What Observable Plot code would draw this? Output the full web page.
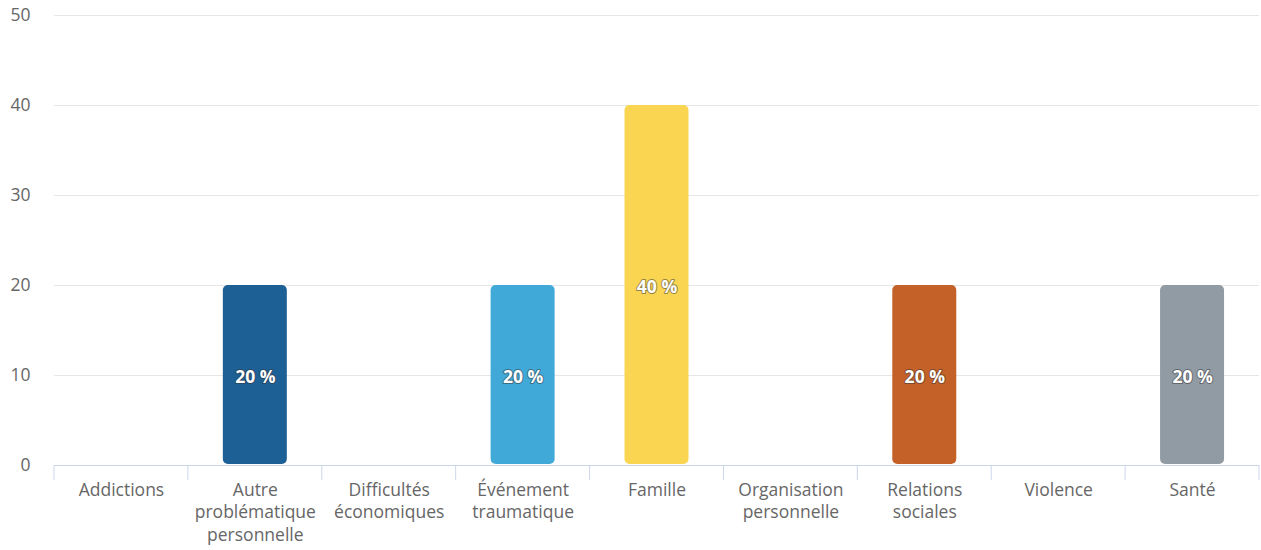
<!DOCTYPE html>
<html><head><meta charset="utf-8">
<script src="https://cdn.jsdelivr.net/npm/d3@7"></script>
<script src="https://cdn.jsdelivr.net/npm/@observablehq/plot@0.6"></script>
<style>
html,body{margin:0;padding:0;background:#fff;}
#chart svg{display:block;}
</style>
</head><body><div id="chart"></div>
<script>
const categories = ["Addictions","Autre problématique personnelle","Difficultés économiques","Événement traumatique","Famille","Organisation personnelle","Relations sociales","Violence","Santé"];
const labels = ["Addictions","Autre\nproblématique\npersonnelle","Difficultés\néconomiques","Événement\ntraumatique","Famille","Organisation\npersonnelle","Relations\nsociales","Violence","Santé"];
const values = [0,20,0,20,40,0,20,0,20];
const colors = ["#2f7ed8","#1d6096","#8bbc21","#41a9d8","#fad551","#492970","#c46128","#77a1e5","#919ba3"];
const yTicks = [0,10,20,30,40,50];

const data = categories.map((c,i)=>({cat:c, label:labels[i], value:values[i], color:colors[i]}));
const labelOf = new Map(categories.map((c,i)=>[c,labels[i]]));

const plot = Plot.plot({
  width: 1261, height: 550,
  marginTop: 15, marginBottom: 85, marginLeft: 54, marginRight: 2,
  style: {fontFamily: "'Open Sans', sans-serif", fontSize: "17.5px", color: "#666", background: "#fff"},
  x: {domain: categories, paddingInner: 0.522, paddingOuter: 0.261, align: 0.5, round: false, label: null},
  y: {domain: [0,50], ticks: yTicks, label: null},
  marks: [
    Plot.gridY(yTicks, {stroke: "#e6e6e6", strokeOpacity: 1}),
    Plot.axisY(yTicks, {tickSize: 0, tickPadding: 24, fill: "#666", fontSize: 17.5}),
    Plot.axisX({tickSize: 0, tickPadding: 14, tickFormat: d => labelOf.get(d), lineHeight: 1.29, fill: "#666", fontSize: 17.5}),
    Plot.barY(data.filter(d=>d.value>0), {x: "cat", y: "value", fill: "color", rx: 5, insetBottom: 1}),
    Plot.ruleY([0], {stroke: "#ccd6eb"}),
    Plot.text(data.filter(d=>d.value>0), {x: "cat", y: d => d.value/2, text: d => d.value + " %", fill: "white", stroke: "#333", strokeWidth: 2, strokeOpacity: 0.5, paintOrder: "stroke", fontWeight: "bold", fontSize: 17.5, dy: 2})
  ]
});

// band separator ticks computed from the plot's own x scale
const xs = plot.scale("x");
const bw = xs.bandwidth, step = xs.step;
const ys = plot.scale("y");
const y0 = ys.apply(0);
const bounds = categories.map(c => xs.apply(c) + bw/2 - step/2);
bounds.push(xs.apply(categories[categories.length-1]) + bw/2 + step/2);
const svg = d3.select(plot);
svg.append("g").selectAll("line").data(bounds).join("line")
  .attr("x1", d=>d).attr("x2", d=>d).attr("y1", y0).attr("y2", y0+15)
  .attr("stroke", "#ccd6eb");

document.getElementById("chart").appendChild(plot);
</script>
</body></html>
